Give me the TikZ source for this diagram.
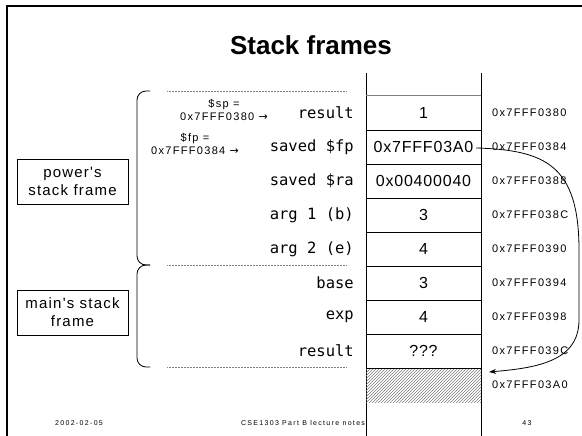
\documentclass[tikz,border=0pt]{standalone}
\usepackage{fontspec}
\setmainfont{Liberation Sans}
\newfontfamily\monof{DejaVu Sans Mono}
\newfontfamily\addrf[LetterSpace=12]{Liberation Sans}
\newfontfamily\footf[LetterSpace=19]{Liberation Sans}
\newfontfamily\cellf[LetterSpace=5]{Liberation Sans}
\newfontfamily\boxf[LetterSpace=8]{Liberation Sans}
\newfontfamily\arrf{DejaVu Sans}
\usetikzlibrary{patterns,arrows.meta}
\tikzset{
  lbl/.style={anchor=east,inner sep=0pt,font=\monof\fontsize{15.5}{17}\selectfont},
  val/.style={minimum width=115pt,minimum height=34pt,inner sep=0pt,font=\cellf\fontsize{16}{18}\selectfont},
  addr/.style={anchor=west,inner sep=0pt,font=\addrf\fontsize{11}{13}\selectfont},
  ann/.style={align=center,inner sep=0pt,font=\addrf\fontsize{11}{12.5}\selectfont},
  framebox/.style={draw,line width=0.8pt,minimum width=111pt,minimum height=45pt,align=center,inner sep=0pt,font=\boxf\fontsize{15}{18}\selectfont},
  sep/.style={line width=1.2pt},
  dots/.style={densely dotted,line width=0.5pt,gray},
  brk/.style={line width=0.8pt,rounded corners=9pt},
  foot/.style={inner sep=0pt,font=\footf\fontsize{7}{8}\selectfont}
}
\begin{document}
\begin{tikzpicture}[x=1pt,y=-1pt]
\useasboundingbox (0,0) rectangle (582,436);
% slide frame
\draw[line width=2pt] (7,440) -- (7,6) -- (590,6);
% title
\node[font=\bfseries\fontsize{26}{30}\selectfont] (title) at (311,45) {Stack frames};
% column
\draw[line width=0.9pt] (366,73) -- (366,440);
\draw[line width=0.9pt] (481,73) -- (481,440);
% cells
\node[val] (c1) at (423.5,113) {1};
\node[val] (c2) at (423.5,147) {0x7FFF03A0};
\node[val] (c3) at (423.5,181) {0x00400040};
\node[val] (c4) at (423.5,215) {3};
\node[val] (c5) at (423.5,249) {4};
\node[val] (c6) at (423.5,283) {3};
\node[val] (c7) at (423.5,317) {4};
\node[val] (c8) at (423.5,351) {???};
\node[val,pattern=north east lines,pattern color=gray] (c9) at (423.5,385) {};
\draw[line width=1pt,gray] (c1.north west) -- (c1.north east);
\foreach \c in {c1,c2,c3,c4,c5,c6,c7,c8}{
  \draw[sep] (\c.south west) -- (\c.south east);
}
% labels
\node[lbl] (l1) at (354,113) {result};
\node[lbl] (l2) at (354,147) {saved \$fp};
\node[lbl] (l3) at (354,181) {saved \$ra};
\node[lbl] (l4) at (354,215) {arg 1 (b)};
\node[lbl] (l5) at (354,249) {arg 2 (e)};
\node[lbl] (l6) at (354,283) {base};
\node[lbl] (l7) at (354,317) {exp};
\node[lbl] (l8) at (354,351) {result};
% addresses
\node[addr] (a1) at (492,113) {0x7FFF0380};
\node[addr] (a2) at (492,147) {0x7FFF0384};
\node[addr] (a3) at (492,181) {0x7FFF0388};
\node[addr] (a4) at (492,215) {0x7FFF038C};
\node[addr] (a5) at (492,249) {0x7FFF0390};
\node[addr] (a6) at (492,283) {0x7FFF0394};
\node[addr] (a7) at (492,317) {0x7FFF0398};
\node[addr] (a8) at (492,351) {0x7FFF039C};
\node[addr] (a9) at (492,385) {0x7FFF03A0};
% dotted separators
\draw[dots] (167,91.5) -- (346,91.5);
\draw[dots] (167,265.5) -- (346,265.5);
\draw[dots] (167,367.5) -- (346,367.5);
% brackets
\draw[brk] (150,91) -- (137,91) -- (137,265) -- (150,265);
\draw[brk] (150,265) -- (137,265) -- (137,367) -- (150,367);
% frame boxes
\node[framebox] (pf) at (72.5,181.5) {power's\\stack frame};
\node[framebox] (mf) at (72.5,312.5) {main's stack\\frame};
% sp / fp annotations
\node[ann] (sp) at (224,110) {\$sp =\\0x7FFF0380 {\arrf→}};
\node[ann] (fp) at (195,144) {\$fp =\\0x7FFF0384 {\arrf→}};
% saved fp pointer
\coordinate (tip) at (489,372);
\draw[line width=0.8pt,-{Stealth[length=7pt,width=5pt]}] ([xshift=-5pt,yshift=-1pt]c2.east) .. controls (545,150) and (579,165) .. (579,250) -- (579,320) .. controls (579,362) and (535,368) .. (tip);
% footer
\node[foot] (d) at (79,423) {2002-02-05};
\node[foot] (cse) at (303,423) {CSE1303 Part B lecture notes};
\node[foot] (pg) at (527,423) {43};
\end{tikzpicture}
\end{document}
